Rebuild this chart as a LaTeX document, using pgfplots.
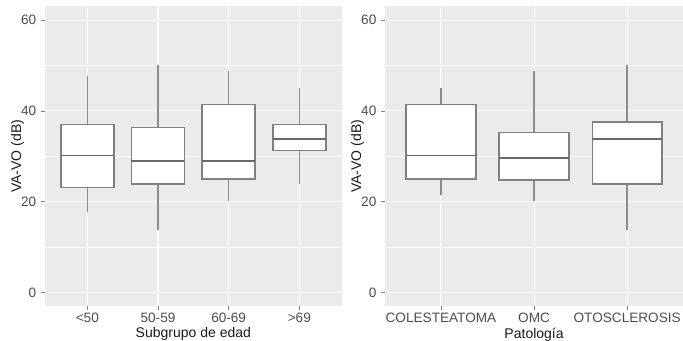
\documentclass[border=0pt]{standalone}
\usepackage{pgfplots}
\pgfplotsset{compat=1.18}
\usepackage{fontspec}
\setmainfont{Liberation Sans}
\definecolor{panelbg}{HTML}{EBEBEB}
\definecolor{boxc}{RGB}{128,128,128}
\definecolor{medc}{RGB}{105,105,105}
\definecolor{whc}{RGB}{140,140,140}
\definecolor{tickc}{HTML}{4D4D4D}
\definecolor{titc}{HTML}{1A1A1A}
% #1 position, #2 half box width, #3 lower whisker, #4 Q1, #5 median, #6 Q3, #7 upper whisker
\newcommand{\ggbox}[7]{%
  \pgfmathsetmacro\xl{#1-#2}\pgfmathsetmacro\xr{#1+#2}%
  \edef\ggtemp{%
    \noexpand\addplot[whc, line width=1.05pt] coordinates {(#1,#3) (#1,#4)};
    \noexpand\addplot[whc, line width=1.05pt] coordinates {(#1,#6) (#1,#7)};
    \noexpand\addplot[draw=boxc, fill=white, line width=1.05pt] coordinates {(\xl,#4) (\xr,#4) (\xr,#6) (\xl,#6)} -- cycle;
    \noexpand\addplot[medc, line width=1.4pt] coordinates {(\xl,#5) (\xr,#5)};
  }\ggtemp}
\pgfplotsset{
  ggbox/.style={
    scale only axis,
    ymin=-3, ymax=63,
    ytick={0,20,40,60},
    minor ytick={10,30,50},
    grid=both,
    major grid style={white, line width=0.8pt},
    minor grid style={white, line width=0.45pt},
    axis background/.style={fill=panelbg},
    axis line style={draw=none},
    tick align=outside,
    xtick pos=left, ytick pos=left,
    major tick length=3pt,
    minor tick length=0pt,
    tick style={color=gray, line width=0.6pt},
    /pgf/number format/assume math mode=true,
    ticklabel style={font=\fontsize{10.2}{12}\selectfont, text=tickc},
    xticklabel style={yshift=1.5pt},
    label style={font=\fontsize{10.5}{12}\selectfont, text=titc},
    xlabel style={yshift=3pt},
    ylabel shift=-9pt,
    ylabel={VA-VO (dB)},
  },
}
\begin{document}
\begin{tikzpicture}
\useasboundingbox (0,0) rectangle (512.25pt,255.75pt);
% left panel
\begin{axis}[ggbox,
  at={(33.7pt,26pt)}, anchor=south west,
  width=222.6pt, height=224.9pt,
  xmin=0.4, xmax=4.6,
  xtick={1,2,3,4},
  xticklabels={{<50},{50-59},{60-69},{>69}},
  xlabel={Subgrupo de edad},
]
\ggbox{1}{0.375}{17.7}{23.1}{30.2}{37.0}{47.7}
\ggbox{2}{0.375}{13.9}{23.9}{28.9}{36.4}{50.1}
\ggbox{3}{0.375}{20.2}{25.0}{28.9}{41.4}{48.9}
\ggbox{4}{0.375}{24.0}{31.3}{33.9}{37.0}{45.1}
\end{axis}
% right panel
\begin{axis}[ggbox,
  at={(288.8pt,26pt)}, anchor=south west,
  width=223.5pt, height=224.9pt,
  xmin=0.4, xmax=3.6,
  xtick={1,2,3},
  xticklabels={COLESTEATOMA,OMC,OTOSCLEROSIS},
  xlabel={Patología},
]
\ggbox{1}{0.375}{21.5}{25.0}{30.2}{41.4}{45.1}
\ggbox{2}{0.375}{20.2}{24.8}{29.6}{35.3}{48.9}
\ggbox{3}{0.375}{13.9}{23.9}{33.9}{37.6}{50.1}
\end{axis}
\end{tikzpicture}
\end{document}
